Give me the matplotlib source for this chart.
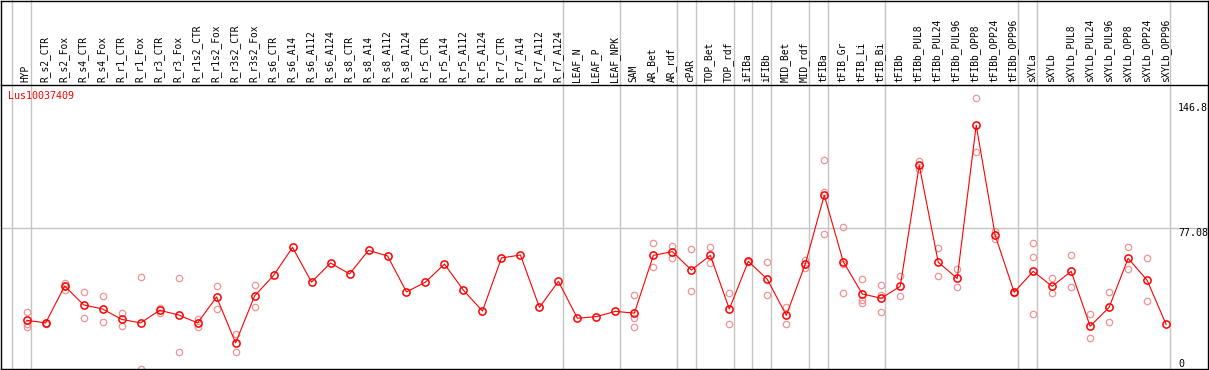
import numpy as np
import matplotlib
matplotlib.use('Agg')
import matplotlib.pyplot as plt
from matplotlib.lines import Line2D

GENE = 'Lus10037409'

SAMPLES = [
    'HYP', 'R_s2_CTR', 'R_s2_Fox', 'R_s4_CTR', 'R_s4_Fox', 'R_r1_CTR', 'R_r1_Fox',
    'R_r3_CTR', 'R_r3_Fox', 'R_r1s2_CTR', 'R_r1s2_Fox', 'R_r3s2_CTR', 'R_r3s2_Fox',
    'R_s6_CTR', 'R_s6_A14', 'R_s6_A112', 'R_s6_A124', 'R_s8_CTR', 'R_s8_A14',
    'R_s8_A112', 'R_s8_A124', 'R_r5_CTR', 'R_r5_A14', 'R_r5_A112', 'R_r5_A124',
    'R_r7_CTR', 'R_r7_A14', 'R_r7_A112', 'R_r7_A124', 'LEAF_N', 'LEAF_P', 'LEAF_NPK',
    'SAM', 'AR_Bet', 'AR_rdf', 'cPAR', 'TOP_Bet', 'TOP_rdf', 'iFIBa', 'iFIBb',
    'MID_Bet', 'MID_rdf', 'tFIBa', 'tFIB_Gr', 'tFIB_Li', 'tFIB_Bi', 'tFIBb',
    'tFIBb_PUL8', 'tFIBb_PUL24', 'tFIBb_PUL96', 'tFIBb_OPP8', 'tFIBb_OPP24',
    'tFIBb_OPP96', 'sXYLa', 'sXYLb', 'sXYLb_PUL8', 'sXYLb_PUL24', 'sXYLb_PUL96',
    'sXYLb_OPP8', 'sXYLb_OPP24', 'sXYLb_OPP96',
]

# mean expression per sample
MEANS = [
    27.2, 25.8, 45.7, 35.5, 33.3, 27.7, 25.8, 32.6, 30.1, 25.8, 39.8, 15.0, 40.3,
    51.4, 66.5, 47.8, 58.1, 52.2, 64.9, 61.9, 42.5, 47.8, 57.5, 43.4, 32.2,
    60.8, 62.4, 34.2, 48.2, 28.3, 29.2, 32.0,
    31.1, 62.2, 64.2, 54.3, 62.2, 33.3, 59.0, 49.3, 29.9, 57.5,
    94.6, 58.8, 41.4, 39.1, 45.5,
    110.7, 58.5, 49.8, 132.3, 73.0, 42.3,
    53.6, 45.5, 53.6, 24.0, 34.2, 60.6, 48.8, 25.0,
]

# individual replicates (empty where only the mean is shown)
REPLICATES = [
    [31.5, 25.0, 23.6], [25.6, 25.2], [47.1, 43.5, 45.7], [42.3, 28.3], [40.3, 26.1],
    [31.0, 24.3], [50.4, 0.8], [33.8, 31.3], [49.8, 10.0], [28.1, 23.8],
    [45.7, 33.1], [20.0, 10.0], [46.1, 34.4],
    [], [], [], [], [], [], [], [], [], [], [], [], [], [], [], [], [], [], [],
    [40.7, 28.4, 23.8], [68.7, 56.1], [67.4, 60.9], [65.6, 43.0], [66.7, 58.2],
    [41.9, 25.0], [59.3, 58.7], [58.5, 40.7], [34.2, 25.0], [59.7, 55.2],
    [113.4, 96.5, 73.5], [77.3, 57.4, 41.9], [49.3, 38.1, 36.4], [46.1, 40.8, 31.5],
    [50.9, 40.1],
    [113.0, 108.5], [66.0, 50.9], [54.7, 45.0], [146.8, 117.7], [75.2, 70.9],
    [42.6, 42.0],
    [68.7, 61.2, 30.4], [49.8, 41.8], [62.2, 45.0], [30.4, 17.5], [42.3, 26.1],
    [66.5, 54.7], [60.6, 37.4], [],
]

# index of last sample in each group (group separators drawn after these)
GROUP_ENDS = [-1, 0, 28, 31, 34, 35, 37, 38, 39, 41, 42, 45, 52, 53, 60]

Y_TICKS = [146.8, 77.08, 0]
Y_TICK_LABELS = ['146.8', '77.08', '0']

W, H = 1209, 370
fig = plt.figure(figsize=(W / 100, H / 100), dpi=100)
plt.rcParams['font.family'] = 'DejaVu Sans Mono'

# plot area in pixels
left_px, right_px, top_px, bot_px = 1.0, 1207.5, 85.0, 368.7
ax = fig.add_axes([left_px / W, (H - bot_px) / H,
                   (right_px - left_px) / W, (bot_px - top_px) / H])

n = len(SAMPLES)
x = np.arange(n)
ax.set_xlim(-1.353, 62.18)
ax.set_ylim(1.13, 154.0)

red = '#ff0000'
pink = '#ee9494'
grid = '#c4c4c4'

# group separators, running through the header as well
ymax_ax = bot_px / (bot_px - top_px)
for b in GROUP_ENDS:
    ax.axvline(b + 0.22, ymin=0, ymax=ymax_ax + 0.01, color=grid, lw=1.0,
               clip_on=False, zorder=1)
ax.axhline(77.08, color=grid, lw=1.0, zorder=1)

# replicates
for i, reps in enumerate(REPLICATES):
    if reps:
        ax.plot([i] * len(reps), reps, 'o', ms=4.6, mfc='none', mec=pink,
                mew=0.9, zorder=2)

# means
ax.plot(x, MEANS, '-', color=red, lw=0.8, zorder=3)
ax.plot(x, MEANS, 'o', ms=5.2, mfc='none', mec=red, mew=1.1, zorder=4)

# sample labels in the header
for i, s in enumerate(SAMPLES):
    ax.text(i - 0.05, 1.0 + 3.0 / (bot_px - top_px), s, rotation=90,
            ha='center', va='bottom', fontsize=6.9, color='black',
            transform=ax.get_xaxis_transform(), clip_on=False)

# value labels on the right
offsets = {'146.8': -4.5, '77.08': -0.5, '0': 12.0}
for v, lbl in zip(Y_TICKS, Y_TICK_LABELS):
    ax.annotate(lbl, xy=(60.63, v), xytext=(0, offsets[lbl]),
                textcoords='offset pixels', ha='left', va='top',
                fontsize=7.2, color='black', annotation_clip=False)

ax.annotate(GENE, xy=(0, 1), xycoords='axes fraction', xytext=(7, -6),
            textcoords='offset pixels', ha='left', va='top',
            fontsize=7.2, color=red)

ax.set_xticks([])
ax.set_yticks([])
for sp in ax.spines.values():
    sp.set_color('black')
    sp.set_linewidth(1.0)

# frame around the header
fx0, fx1 = left_px / W, right_px / W
fy_top = (H - 0.5) / H
fy_hdr = (H - top_px) / H
for xs, ys in [([fx0, fx1], [fy_top, fy_top]),
               ([fx0, fx0], [fy_hdr, fy_top]),
               ([fx1, fx1], [fy_hdr, fy_top])]:
    fig.add_artist(Line2D(xs, ys, color='black', lw=1.0,
                          transform=fig.transFigure))

fig.savefig('out.png', dpi=100)
